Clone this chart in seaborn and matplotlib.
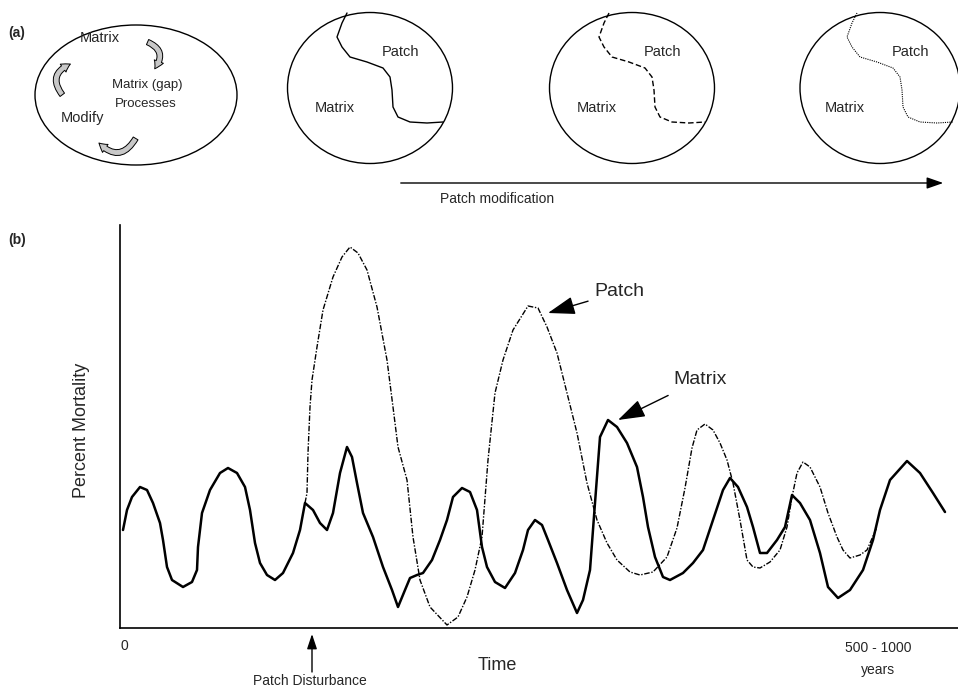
import numpy as np
import pandas as pd
import matplotlib
matplotlib.use("Agg")
import matplotlib.pyplot as plt
import seaborn as sns
from matplotlib.patches import Ellipse, FancyArrowPatch

# ---- panel (b) data: time (arbitrary units) vs percent mortality (arbitrary units)
matrix_time = [3, 7, 12, 20, 27, 33, 40, 43, 47, 52, 63, 72, 77, 78, 82, 90, 100, 108,
               117, 125, 130, 135, 140, 147, 155, 163, 173, 180, 185, 193, 200, 207,
               213, 220, 227, 232, 237, 243, 253, 263, 272, 278, 285, 290, 297, 303,
               312, 320, 327, 333, 342, 350, 357, 362, 367, 375, 385, 395, 403, 408,
               415, 422, 428, 437, 447, 457, 463, 470, 475, 480, 488, 497, 507, 517,
               523, 528, 535, 543, 550, 563, 573, 583, 593, 603, 610, 618, 627, 633,
               640, 647, 657, 665, 672, 680, 690, 700, 708, 718, 730, 743, 753, 760,
               770, 787, 800, 813, 825]
matrix_mort = [98, 118, 131, 141, 138, 125, 105, 88, 61, 48, 41, 46, 58, 81, 115, 138,
               155, 160, 155, 141, 118, 85, 65, 53, 48, 55, 75, 98, 125, 118, 105, 98,
               115, 155, 181, 171, 145, 115, 91, 61, 38, 21, 38, 50, 53, 55, 68, 88,
               108, 131, 140, 136, 118, 81, 61, 46, 40, 55, 78, 98, 108, 103, 88, 65,
               38, 15, 28, 58, 125, 191, 208, 201, 185, 161, 131, 101, 71, 51, 48, 55,
               65, 78, 108, 138, 150, 141, 121, 101, 75, 75, 88, 101, 133, 125, 108,
               75, 41, 30, 38, 58, 88, 118, 148, 167, 155, 135, 116]

patch_time = [185, 187, 188, 190, 192, 197, 203, 213, 222, 230, 238, 247, 257, 267,
              273, 278, 287, 293, 300, 310, 327, 338, 347, 355, 362, 368, 375, 383,
              393, 408, 418, 427, 437, 447, 457, 467, 477, 487, 497, 510, 520, 533,
              547, 557, 565, 572, 577, 585, 593, 600, 607, 613, 620, 627, 633, 640,
              650, 660, 667, 672, 677, 683, 690, 700, 708, 717, 723, 730, 740, 747,
              757]
patch_mort = [125, 135, 175, 221, 248, 281, 318, 351, 371, 381, 375, 358, 321, 268,
              221, 181, 148, 91, 48, 21, 3, 11, 31, 58, 91, 168, 235, 268, 298, 322,
              320, 301, 275, 235, 195, 145, 108, 85, 68, 56, 53, 56, 71, 100, 140,
              180, 198, 204, 198, 185, 168, 145, 108, 68, 61, 60, 66, 78, 101, 131,
              155, 166, 161, 141, 115, 91, 78, 70, 73, 78, 101]

# ---- panel (a) patch boundary shape, relative to ellipse centre
boundary_dx = [-23, -28, -33, -28, -20, -3, 13, 20, 22, 23, 28, 40, 57, 73]
boundary_dy = [-75, -65, -51, -41, -31, -26, -20, -11, 2, 19, 29, 34, 35, 34]

matrix_df = pd.DataFrame({"time": matrix_time, "mortality": matrix_mort})
patch_df = pd.DataFrame({"time": patch_time, "mortality": patch_mort})

sns.set_style("white")
plt.rcParams["font.family"] = ["Liberation Sans", "DejaVu Sans"]

fig = plt.figure(figsize=(9.58, 6.89), dpi=100)

# overlay axes in pixel coordinates for the schematic panel and free text
ov = fig.add_axes([0, 0, 1, 1])
ov.set_xlim(0, 958)
ov.set_ylim(689, 0)
ov.axis("off")

# ---------------- panel (a) ----------------
ov.text(8, 33, "(a)", fontsize=10, fontweight="bold", va="center")

ov.add_patch(Ellipse((136, 95), 202, 140, fill=False, ec="black", lw=1))
ov.text(100, 38, "Matrix", fontsize=10.5, ha="center", va="center")
ov.text(147, 85, "Matrix (gap)", fontsize=9.5, ha="center", va="center")
ov.text(146, 104, "Processes", fontsize=9.5, ha="center", va="center")
ov.text(83, 118, "Modify", fontsize=10.5, ha="center", va="center")

arrow_kw = dict(arrowstyle="simple,head_width=7,head_length=6,tail_width=4",
                fc="#c8c8c8", ec="black", lw=0.7, mutation_scale=1)
ov.add_patch(FancyArrowPatch((145, 41), (153, 71), connectionstyle="arc3,rad=-0.7", **arrow_kw))
ov.add_patch(FancyArrowPatch((64, 97), (73, 63), connectionstyle="arc3,rad=-0.7", **arrow_kw))
ov.add_patch(FancyArrowPatch((137, 136), (97, 141), connectionstyle="arc3,rad=-0.7", **arrow_kw))

centres = [(370, 88), (632, 88), (880, 88)]
widths = [165, 165, 160]
styles = ["-", (0, (4, 2)), (0, (1, 1))]
lws = [1.0, 1.0, 0.8]
for (cx, cy), w, ls, lw in zip(centres, widths, styles, lws):
    ov.add_patch(Ellipse((cx, cy), w, 151, fill=False, ec="black", lw=1))
    ov.plot([cx + dx for dx in boundary_dx], [cy + dy for dy in boundary_dy],
            color="black", lw=lw, ls=ls)
    ov.text(cx + 31, cy - 36, "Patch", fontsize=10.5, ha="center", va="center")
    ov.text(cx - 35, cy + 20, "Matrix", fontsize=10.5, ha="center", va="center")

ov.annotate("", xy=(946, 183), xytext=(398, 183),
            arrowprops=dict(arrowstyle="-|>,head_width=0.35,head_length=1.0",
                            color="black", lw=1))
ov.text(440, 199, "Patch modification", fontsize=10, ha="left", va="center")

# ---------------- panel (b) ----------------
ov.text(8, 240, "(b)", fontsize=10, fontweight="bold", va="center")

ax = fig.add_axes([120 / 958, 61 / 689, 838 / 958, 403 / 689])
sns.lineplot(data=matrix_df, x="time", y="mortality", ax=ax, color="black",
             lw=1.8, sort=False, estimator=None)
sns.lineplot(data=patch_df, x="time", y="mortality", ax=ax, color="black",
             lw=1.0, sort=False, estimator=None, linestyle=(0, (4, 1.2, 1, 1.2)))
ax.set_xlim(0, 838)
ax.set_ylim(0, 403)
ax.set_xticks([])
ax.set_yticks([])
ax.set_xlabel("")
ax.set_ylabel("")
for side in ["top", "right"]:
    ax.spines[side].set_visible(False)
for side in ["left", "bottom"]:
    ax.spines[side].set_color("black")
    ax.spines[side].set_linewidth(1.2)

ax.annotate("Patch", xy=(428, 315), xytext=(474, 336), fontsize=14,
            ha="left", va="center",
            arrowprops=dict(arrowstyle="-|>,head_width=0.4,head_length=1.2",
                            color="black", lw=1, shrinkA=2, shrinkB=0))
ax.annotate("Matrix", xy=(498, 208), xytext=(553, 248), fontsize=14,
            ha="left", va="center",
            arrowprops=dict(arrowstyle="-|>,head_width=0.4,head_length=1.2",
                            color="black", lw=1, shrinkA=6, shrinkB=0))

ov.text(82, 430, "Percent Mortality", fontsize=13, rotation=90, ha="center", va="center")
ov.text(124, 646, "0", fontsize=10, ha="center", va="center")
ov.text(497, 665, "Time", fontsize=13, ha="center", va="center")
ov.text(878, 648, "500 - 1000", fontsize=10, ha="center", va="center")
ov.text(878, 670, "years", fontsize=10, ha="center", va="center")
ov.annotate("", xy=(312, 634), xytext=(312, 672),
            arrowprops=dict(arrowstyle="-|>,head_width=0.3,head_length=0.9",
                            color="black", lw=1, shrinkA=0, shrinkB=0))
ov.text(310, 681, "Patch Disturbance", fontsize=10, ha="center", va="center")

fig.savefig("out.png", dpi=100)
